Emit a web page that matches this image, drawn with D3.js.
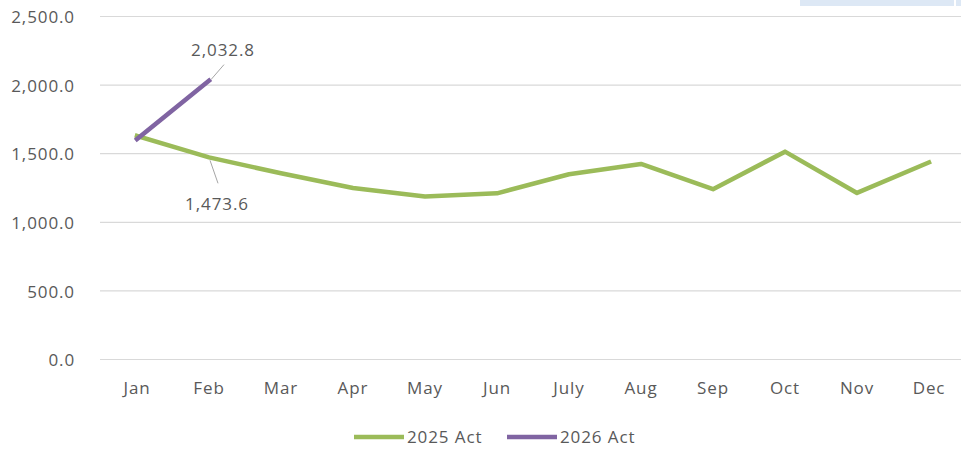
<!DOCTYPE html>
<html><head><meta charset="utf-8">
<script src="https://cdn.jsdelivr.net/npm/d3@7/dist/d3.min.js"></script>
<style>body{margin:0;background:#fff}svg{display:block}text{font-family:"Open Sans",sans-serif;fill:#595959;letter-spacing:0.9px}</style>
</head><body><svg id="c" width="961" height="449"></svg>
<script>
const months = ["Jan","Feb","Mar","Apr","May","Jun","July","Aug","Sep","Oct","Nov","Dec"];
const act2025 = [1630,1473.6,1357,1250,1188,1211,1350,1425,1241,1515,1214,1437];
const act2026 = [1607,2032.8];
const yTicks = [0,500,1000,1500,2000,2500];
const seriesNames = ["2025 Act","2026 Act"];
const colors = ["#9bbb59","#8064a2"];

const FS = 17;
const svg = d3.select("#c");
const x = d3.scaleBand().domain(months).range([101,965]);
const y = d3.scaleLinear().domain([0,2500]).range([359.5,16.5]);
const fmt = d3.format(",.1f");

// top-right artifact box
svg.append("rect").attr("x",800).attr("y",0).attr("width",154).attr("height",6).attr("fill","#dde8f5");
svg.append("rect").attr("x",956).attr("y",0).attr("width",5).attr("height",6).attr("fill","#dde8f5");

// gridlines
svg.append("g").selectAll("line").data(yTicks).join("line")
  .attr("x1",100).attr("x2",961).attr("y1",d=>y(d)).attr("y2",d=>y(d))
  .attr("stroke","#d9d9d9").attr("stroke-width",1.2);

// y axis
const ya = svg.append("g").attr("transform","translate(100,0)")
  .call(d3.axisLeft(y).tickValues(yTicks).tickFormat(fmt).tickSize(0).tickPadding(25));
ya.select(".domain").remove();
ya.selectAll("text").attr("font-size",FS).attr("font-family","Open Sans").attr("fill","#595959").attr("dy","0.36em");

// x axis
const xa = svg.append("g").attr("transform","translate(0,359.5)")
  .call(d3.axisBottom(x).tickSize(0));
xa.select(".domain").remove();
xa.selectAll("text").attr("font-size",FS).attr("font-family","Open Sans").attr("fill","#595959").attr("y",34).attr("dy",0);

const cx = m => x(m)+x.bandwidth()/2;
const line = d3.line().x((d,i)=>cx(months[i])).y(d=>y(d));
[act2025,act2026].forEach((s,k)=>{
  svg.append("path").datum(s).attr("d",line).attr("fill","none")
    .attr("stroke",colors[k]).attr("stroke-width",4.5).attr("stroke-linejoin","round").attr("stroke-linecap","square");
});

// data labels with leader lines
const febX = cx("Feb");
svg.append("line").attr("x1",febX+2).attr("y1",y(act2026[1])-1).attr("x2",febX+15).attr("y2",y(act2026[1])-16)
  .attr("stroke","#a6a6a6").attr("stroke-width",1);
svg.append("text").attr("x",febX+14).attr("y",y(act2026[1])-25).attr("text-anchor","middle")
  .attr("font-size",FS).text(fmt(act2026[1]));
svg.append("line").attr("x1",febX+1).attr("y1",y(act2025[1])+3).attr("x2",febX+9).attr("y2",y(act2025[1])+26)
  .attr("stroke","#a6a6a6").attr("stroke-width",1);
svg.append("text").attr("x",febX+8).attr("y",y(act2025[1])+53).attr("text-anchor","middle")
  .attr("font-size",FS).text(fmt(act2025[1]));

// legend
const lg = svg.append("g");
const lx = [354,507];
seriesNames.forEach((n,k)=>{
  lg.append("line").attr("x1",lx[k]).attr("x2",lx[k]+50).attr("y1",437).attr("y2",437)
    .attr("stroke",colors[k]).attr("stroke-width",4.5);
  lg.append("text").attr("x",lx[k]+53).attr("y",443).attr("font-size",FS).text(n);
});
</script></body></html>
